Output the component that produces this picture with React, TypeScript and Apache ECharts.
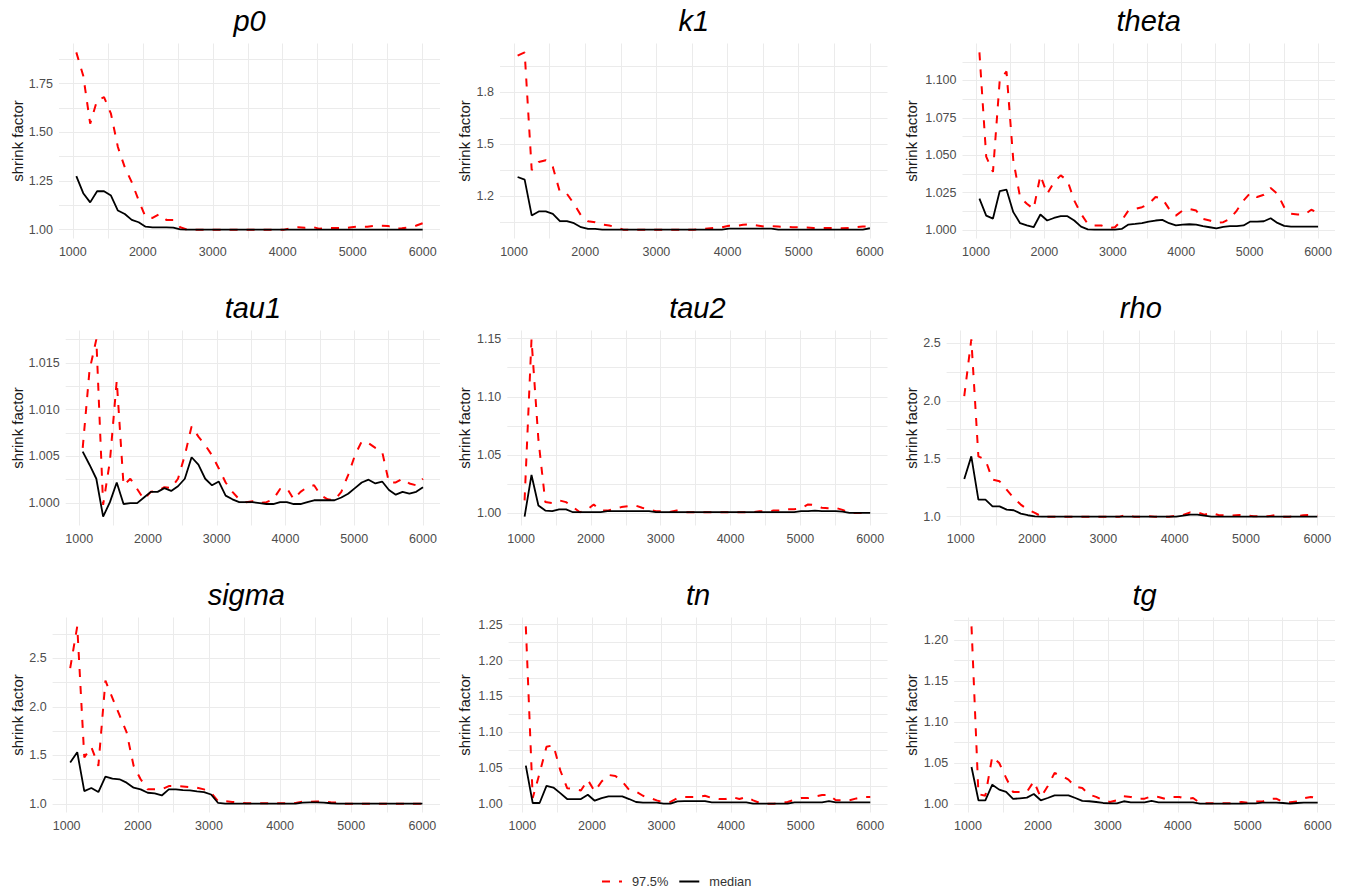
import React, { useEffect, useRef } from 'react';
import * as echarts from 'echarts';

// ---------------- data ----------------
const iterations = [1050, 1149, 1248, 1347, 1446, 1545, 1644, 1743, 1842, 1941, 2040, 2139, 2238, 2337, 2436, 2535, 2634, 2733, 2832, 2931, 3030, 3129, 3228, 3327, 3426, 3525, 3624, 3723, 3822, 3921, 4020, 4119, 4218, 4317, 4416, 4515, 4614, 4713, 4812, 4911, 5010, 5109, 5208, 5307, 5406, 5505, 5604, 5703, 5802, 5901, 6000];

const xTickLabels = [1000, 2000, 3000, 4000, 5000, 6000];

const p0Median = [1.275, 1.187, 1.14, 1.197, 1.197, 1.175, 1.098, 1.08, 1.05, 1.038, 1.015, 1.012, 1.012, 1.012, 1.01, 1.001, 1.0, 1.0, 1.0, 1.0, 1.0, 1.0, 1.0, 1.0, 1.0, 1.0, 1.0, 1.0, 1.0, 1.0, 1.0, 1.0, 1.0, 1.0, 1.0, 1.0, 1.0, 1.0, 1.0, 1.0, 1.0, 1.0, 1.0, 1.0, 1.0, 1.0, 1.0, 1.0, 1.0, 1.0, 1.0];
const p0Upper = [1.91, 1.79, 1.544, 1.664, 1.68, 1.595, 1.424, 1.32, 1.244, 1.15, 1.064, 1.06, 1.08, 1.05, 1.05, 1.012, 1.0, 1.0, 1.0, 1.0, 1.0, 1.0, 1.0, 1.0, 1.0, 1.0, 1.0, 1.0, 1.0, 1.0, 1.0, 1.007, 1.012, 1.01, 1.015, 1.005, 1.008, 1.008, 1.008, 1.008, 1.014, 1.015, 1.015, 1.019, 1.02, 1.019, 1.005, 1.007, 1.012, 1.02, 1.033];

const k1Median = [1.31, 1.295, 1.088, 1.111, 1.111, 1.097, 1.055, 1.055, 1.043, 1.02, 1.01, 1.01, 1.006, 1.006, 1.006, 1.006, 1.006, 1.006, 1.006, 1.006, 1.006, 1.006, 1.006, 1.006, 1.006, 1.006, 1.006, 1.006, 1.006, 1.006, 1.012, 1.012, 1.012, 1.012, 1.012, 1.012, 1.012, 1.006, 1.006, 1.006, 1.006, 1.006, 1.006, 1.006, 1.006, 1.006, 1.006, 1.006, 1.006, 1.006, 1.014];
const k1Upper = [2.011, 2.03, 1.35, 1.397, 1.407, 1.368, 1.223, 1.213, 1.155, 1.088, 1.055, 1.049, 1.036, 1.03, 1.02, 1.006, 1.006, 1.006, 1.006, 1.006, 1.006, 1.006, 1.006, 1.006, 1.006, 1.006, 1.008, 1.012, 1.016, 1.02, 1.028, 1.028, 1.034, 1.036, 1.03, 1.024, 1.026, 1.024, 1.022, 1.02, 1.02, 1.018, 1.016, 1.016, 1.016, 1.016, 1.014, 1.016, 1.02, 1.024, 1.024];

const thetaMedian = [1.0209, 1.0096, 1.0076, 1.026, 1.0269, 1.0119, 1.0045, 1.003, 1.0018, 1.0103, 1.0063, 1.008, 1.0092, 1.0092, 1.0063, 1.0022, 1.0004, 1.0002, 1.0002, 1.0002, 1.0002, 1.0007, 1.0036, 1.004, 1.0045, 1.0056, 1.0063, 1.0067, 1.0045, 1.003, 1.0036, 1.0038, 1.0036, 1.0025, 1.0018, 1.0011, 1.002, 1.0025, 1.0025, 1.003, 1.0056, 1.0056, 1.0058, 1.0078, 1.0047, 1.0027, 1.0022, 1.0022, 1.0022, 1.0022, 1.0022];
const thetaUpper = [1.1188, 1.049, 1.0388, 1.1004, 1.106, 1.0466, 1.022, 1.0175, 1.014, 1.0365, 1.024, 1.032, 1.0365, 1.033, 1.0197, 1.0108, 1.004, 1.003, 1.003, 1.0013, 1.0018, 1.0063, 1.013, 1.0141, 1.0152, 1.0175, 1.022, 1.021, 1.0141, 1.0096, 1.013, 1.0141, 1.013, 1.0074, 1.0063, 1.0047, 1.0052, 1.0074, 1.013, 1.0197, 1.0247, 1.022, 1.0235, 1.028, 1.0242, 1.0152, 1.0108, 1.0103, 1.0103, 1.0135, 1.0114];

const tau1Median = [1.0055, 1.0041, 1.0026, 0.99855, 1.0001, 1.0022, 0.9999, 1.0, 1.0, 1.0006, 1.0012, 1.0012, 1.0016, 1.0013, 1.0018, 1.0026, 1.0049, 1.0041, 1.0026, 1.0019, 1.0023, 1.0008, 1.0004, 1.0001, 1.0001, 1.0001, 1.0, 0.9999, 0.9999, 1.0001, 1.0001, 0.9999, 0.9999, 1.0001, 1.0003, 1.0003, 1.0003, 1.0003, 1.0006, 1.001, 1.0016, 1.0022, 1.0025, 1.0021, 1.0023, 1.0014, 1.0009, 1.0012, 1.001, 1.0012, 1.0017];
const tau1Upper = [1.0059, 1.0142, 1.0175, 0.9998, 1.0045, 1.0131, 1.0019, 1.0026, 1.0015, 1.0004, 1.0012, 1.0013, 1.0017, 1.0016, 1.0026, 1.0051, 1.0082, 1.0071, 1.0062, 1.0051, 1.0037, 1.0022, 1.0012, 1.0004, 1.0001, 1.0002, 1.0, 1.0001, 1.0004, 1.0015, 1.0016, 1.0004, 1.0012, 1.0017, 1.0019, 1.0008, 1.0004, 1.0003, 1.0012, 1.003, 1.0051, 1.0066, 1.0064, 1.0059, 1.0055, 1.0022, 1.0022, 1.0026, 1.0021, 1.0019, 1.0026];

const tau2Median = [0.9968, 1.0327, 1.0064, 1.002, 1.0015, 1.003, 1.003, 1.0006, 1.0006, 1.0006, 1.0006, 1.0006, 1.0015, 1.0015, 1.0015, 1.0015, 1.0015, 1.0015, 1.0015, 1.0006, 1.0006, 1.0006, 1.0006, 1.0006, 1.0006, 1.0006, 1.0006, 1.0006, 1.0006, 1.0006, 1.0006, 1.0006, 1.0006, 1.0006, 1.0006, 1.0006, 1.0006, 1.0006, 1.0006, 1.0006, 1.0015, 1.0015, 1.002, 1.0015, 1.0015, 1.0015, 1.0012, 1.0, 1.0, 1.0, 1.0];
const tau2Upper = [1.0108, 1.1494, 1.063, 1.0093, 1.0085, 1.0108, 1.0093, 1.005, 1.0006, 1.0026, 1.0073, 1.002, 1.002, 1.0035, 1.005, 1.0058, 1.0064, 1.0044, 1.0026, 1.0015, 1.0015, 1.0009, 1.002, 1.0006, 1.0006, 1.0006, 1.0006, 1.0006, 1.0006, 1.0006, 1.0006, 1.0006, 1.0006, 1.0006, 1.0015, 1.0012, 1.002, 1.002, 1.0032, 1.0032, 1.0041, 1.0073, 1.0067, 1.0044, 1.0041, 1.0044, 1.0026, 1.0, 1.0, 1.0, 1.0];

const rhoMedian = [1.325, 1.52, 1.147, 1.147, 1.089, 1.089, 1.06, 1.055, 1.026, 1.012, 1.003, 1.0, 1.0, 1.0, 1.0, 1.0, 1.0, 1.0, 1.0, 1.0, 1.0, 1.0, 1.0, 1.0, 1.0, 1.0, 1.0, 1.0, 1.0, 1.0, 1.0, 1.009, 1.017, 1.017, 1.009, 1.0, 1.0, 1.0, 1.0, 1.0, 1.0, 1.0, 1.0, 1.0, 1.0, 1.0, 1.0, 1.0, 1.0, 1.0, 1.0];
const rhoUpper = [2.04, 2.53, 1.52, 1.49, 1.32, 1.305, 1.233, 1.16, 1.104, 1.06, 1.032, 1.0, 1.0, 1.0, 1.0, 1.0, 1.0, 1.0, 1.0, 1.0, 1.0, 1.0, 1.0, 1.014, 1.0, 1.0, 1.003, 1.0, 1.0, 1.0, 1.009, 1.014, 1.037, 1.037, 1.017, 1.032, 1.014, 1.012, 1.009, 1.014, 1.012, 1.003, 1.003, 1.003, 1.012, 1.0, 1.0, 1.003, 1.012, 1.014, 1.009];

const sigmaMedian = [1.428, 1.533, 1.132, 1.164, 1.122, 1.282, 1.261, 1.254, 1.219, 1.167, 1.15, 1.115, 1.108, 1.087, 1.15, 1.15, 1.143, 1.139, 1.129, 1.122, 1.097, 1.01, 1.003, 1.003, 1.003, 1.003, 1.003, 1.003, 1.003, 1.003, 1.003, 1.003, 1.003, 1.014, 1.017, 1.017, 1.014, 1.007, 1.003, 1.003, 1.003, 1.003, 1.003, 1.003, 1.003, 1.003, 1.003, 1.003, 1.003, 1.003, 1.003];
const sigmaUpper = [2.4, 2.83, 1.48, 1.585, 1.393, 2.27, 2.09, 1.915, 1.74, 1.393, 1.254, 1.15, 1.15, 1.15, 1.184, 1.184, 1.18, 1.174, 1.167, 1.15, 1.115, 1.028, 1.028, 1.021, 1.014, 1.007, 1.007, 1.007, 1.007, 1.007, 1.007, 1.007, 1.01, 1.024, 1.021, 1.024, 1.024, 1.017, 1.014, 1.003, 1.003, 1.003, 1.003, 1.003, 1.003, 1.003, 1.003, 1.003, 1.003, 1.003, 1.003];

const tnMedian = [1.0534, 1.0014, 1.0014, 1.0253, 1.023, 1.0152, 1.0069, 1.0069, 1.0069, 1.0129, 1.0046, 1.0083, 1.0106, 1.0106, 1.0106, 1.0069, 1.0028, 1.0018, 1.0018, 1.0018, 1.0005, 1.0005, 1.0037, 1.0041, 1.0041, 1.0041, 1.0041, 1.0023, 1.0023, 1.0023, 1.0023, 1.0023, 1.0023, 1.0005, 1.0005, 1.0005, 1.0005, 1.0005, 1.0005, 1.0023, 1.0023, 1.0023, 1.0023, 1.0023, 1.0041, 1.0023, 1.0023, 1.0023, 1.0023, 1.0023, 1.0023];
const tnUpper = [1.2477, 1.0083, 1.043, 1.0797, 1.082, 1.047, 1.022, 1.0207, 1.0189, 1.0336, 1.0175, 1.0313, 1.0405, 1.0391, 1.0313, 1.0198, 1.0175, 1.0115, 1.0083, 1.0051, 1.0023, 1.0028, 1.0083, 1.0097, 1.0097, 1.0097, 1.0115, 1.0083, 1.0069, 1.0069, 1.0097, 1.0069, 1.0097, 1.0051, 1.0014, 1.0005, 1.0005, 1.0014, 1.0028, 1.006, 1.0083, 1.0083, 1.0106, 1.0124, 1.0129, 1.0051, 1.0051, 1.0051, 1.0078, 1.0097, 1.0097];

const tgMedian = [1.0452, 1.0045, 1.0045, 1.0236, 1.0175, 1.0147, 1.0061, 1.0069, 1.0077, 1.0122, 1.0045, 1.0073, 1.0106, 1.0106, 1.0106, 1.0073, 1.0037, 1.0033, 1.0024, 1.0012, 1.0008, 1.0008, 1.0033, 1.002, 1.002, 1.002, 1.0037, 1.002, 1.002, 1.002, 1.002, 1.002, 1.002, 1.0004, 1.0004, 1.0004, 1.0004, 1.0004, 1.0004, 1.0004, 1.0008, 1.0008, 1.0016, 1.0016, 1.0016, 1.0012, 1.0004, 1.0012, 1.0016, 1.0016, 1.0016];
const tgUpper = [1.217, 1.012, 1.01, 1.058, 1.05, 1.0318, 1.0147, 1.0147, 1.0147, 1.0277, 1.0081, 1.0216, 1.0379, 1.0346, 1.0297, 1.0208, 1.0196, 1.0114, 1.0086, 1.0045, 1.0024, 1.0045, 1.0094, 1.0086, 1.0061, 1.0065, 1.0094, 1.0086, 1.0061, 1.0086, 1.0086, 1.0061, 1.0073, 1.0012, 1.0008, 1.0008, 1.0008, 1.0008, 1.0012, 1.0024, 1.0012, 1.0029, 1.0029, 1.0061, 1.0065, 1.0024, 1.002, 1.0029, 1.0069, 1.0086, 1.0073];

const panelNames = ['p0', 'k1', 'theta', 'tau1', 'tau2', 'rho', 'sigma', 'tn', 'tg'];
const medianSeries = [p0Median, k1Median, thetaMedian, tau1Median, tau2Median, rhoMedian, sigmaMedian, tnMedian, tgMedian];
const upperSeries = [p0Upper, k1Upper, thetaUpper, tau1Upper, tau2Upper, rhoUpper, sigmaUpper, tnUpper, tgUpper];
const yMajorSteps = [0.25, 0.3, 0.025, 0.005, 0.05, 0.5, 0.5, 0.05, 0.05];
const yDecimals = [2, 1, 3, 3, 2, 1, 1, 2, 2];

// ---------------- layout ----------------
const rowTops = [43.5, 330.5, 617.5];
const plotHeight = 195;
const colRights = [440, 887.5, 1335];
const plotLefts = [59, 500, 962.5, 65.7, 507.3, 946.6, 52.6, 508.6, 954.2];
const yTitleX = [17, 464, 911.5];

const FONT = '"Liberation Sans", Arial, Helvetica, sans-serif';
const GRID_COLOR = '#ebebeb';

function buildOption() {
  const grids: any[] = [];
  const xAxes: any[] = [];
  const yAxes: any[] = [];
  const series: any[] = [];
  const graphics: any[] = [];

  const xMin = Math.min(...iterations);
  const xMax = Math.max(...iterations);
  const xPad = (xMax - xMin) * 0.05;

  panelNames.forEach((name, i) => {
    const row = Math.floor(i / 3);
    const col = i % 3;
    const left = plotLefts[i];
    const top = rowTops[row];
    const width = colRights[col] - left;
    grids.push({ left, top, width, height: plotHeight, containLabel: false });

    const med = medianSeries[i];
    const up = upperSeries[i];
    const all = med.concat(up);
    const yMin = Math.min(...all);
    const yMax = Math.max(...all);
    const yPad = (yMax - yMin) * 0.05;
    const major = yMajorSteps[i];
    const dec = yDecimals[i];

    xAxes.push({
      type: 'value',
      gridIndex: i,
      min: xMin - xPad,
      max: xMax + xPad,
      minInterval: 500,
      maxInterval: 500,
      axisLine: { show: false },
      axisTick: { show: false },
      axisLabel: {
        show: true,
        margin: 7,
        color: '#4d4d4d',
        fontSize: 12.5,
        fontFamily: FONT,
        showMinLabel: false,
        showMaxLabel: false,
        formatter: (v: number) => {
          const r = Math.round(v);
          return Math.abs(v - r) < 1e-6 && xTickLabels.indexOf(r) >= 0 ? String(r) : '';
        },
      },
      splitLine: { show: true, showMinLine: false, showMaxLine: false, lineStyle: { color: GRID_COLOR, width: 1 } },
    });

    yAxes.push({
      type: 'value',
      gridIndex: i,
      min: yMin - yPad,
      max: yMax + yPad,
      minInterval: major / 2,
      maxInterval: major / 2,
      axisLine: { show: false },
      axisTick: { show: false },
      axisLabel: {
        show: true,
        margin: 6,
        color: '#4d4d4d',
        fontSize: 12.5,
        fontFamily: FONT,
        showMinLabel: false,
        showMaxLabel: false,
        formatter: (v: number) => {
          const k = v / major;
          return Math.abs(k - Math.round(k)) < 1e-6 ? v.toFixed(dec) : '';
        },
      },
      splitLine: { show: true, showMinLine: false, showMaxLine: false, lineStyle: { color: GRID_COLOR, width: 1 } },
    });

    series.push({
      type: 'line',
      name: '97.5%',
      xAxisIndex: i,
      yAxisIndex: i,
      data: iterations.map((x, j) => [x, up[j]]),
      symbol: 'none',
      showSymbol: false,
      silent: true,
      z: 2,
      itemStyle: { color: '#ff0000' },
      lineStyle: { color: '#ff0000', width: 2, type: [8, 9] },
    });
    series.push({
      type: 'line',
      name: 'median',
      xAxisIndex: i,
      yAxisIndex: i,
      data: iterations.map((x, j) => [x, med[j]]),
      symbol: 'none',
      showSymbol: false,
      silent: true,
      z: 3,
      itemStyle: { color: '#000000' },
      lineStyle: { color: '#000000', width: 1.8 },
    });

    graphics.push({
      type: 'text',
      x: (left + colRights[col]) / 2,
      y: top - 22.4,
      silent: true,
      style: {
        text: name,
        fontSize: 29,
        fontStyle: 'italic',
        fontFamily: FONT,
        fill: '#000000',
        align: 'center',
        verticalAlign: 'middle',
      },
    });
    graphics.push({
      type: 'text',
      x: yTitleX[col],
      y: top + plotHeight / 2,
      rotation: Math.PI / 2,
      silent: true,
      style: {
        text: 'shrink factor',
        fontSize: 15,
        fontFamily: FONT,
        fill: '#1a1a1a',
        align: 'center',
        verticalAlign: 'middle',
      },
    });
  });

  return {
    animation: false,
    backgroundColor: '#ffffff',
    grid: grids,
    xAxis: xAxes,
    yAxis: yAxes,
    series,
    graphic: graphics,
    legend: {
      data: ['97.5%', 'median'],
      left: 601,
      top: 875,
      padding: 0,
      orient: 'horizontal',
      itemWidth: 20,
      itemHeight: 14,
      itemGap: 10,
      selectedMode: false,
      itemStyle: { opacity: 0 },
      textStyle: { fontSize: 12.8, color: '#333333', fontFamily: FONT, padding: [0, 0, 0, 5] },
    },
  };
}

export default function App() {
  const ref = useRef<HTMLDivElement>(null);
  useEffect(() => {
    if (!ref.current) return;
    const chart = echarts.init(ref.current, undefined, { renderer: 'svg' });
    chart.setOption(buildOption() as any);
    return () => chart.dispose();
  }, []);
  return (
    <div
      ref={ref}
      style={{ position: 'absolute', left: 0, top: 0, width: 1346, height: 894, background: '#ffffff' }}
    />
  );
}
